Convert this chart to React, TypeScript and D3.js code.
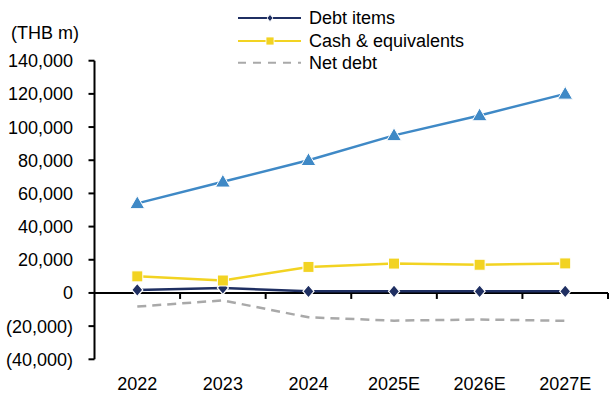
import React from "react";
import * as d3 from "d3";

const categories = ["2022", "2023", "2024", "2025E", "2026E", "2027E"];
const seriesBlue = [54000, 67000, 80000, 95000, 107000, 120000];
const debtItems = [1800, 3000, 1000, 1000, 1000, 1000];
const cashEquivalents = [10000, 7500, 15700, 17700, 17000, 17800];
const netDebt = [-8200, -4500, -14700, -16700, -16000, -16800];
const yTicks = [140000, 120000, 100000, 80000, 60000, 40000, 20000, 0, -20000, -40000];
const legendLabels = ["Debt items", "Cash & equivalents", "Net debt"];

const W = 609, H = 394;
const X0 = 94.5, X1 = 608;
const YTOP = 60.7, YBOT = 359.3;

function fmt(v: number) {
  const s = d3.format(",")(Math.abs(v));
  return v < 0 ? `(${s})` : s;
}

export default function App() {
  const x = d3.scaleBand<string>().domain(categories).range([X0, X1]).padding(0);
  const y = d3.scaleLinear().domain([-40000, 140000]).range([YBOT, YTOP]);
  const cx = (c: string) => (x(c) as number) + x.bandwidth() / 2;
  const line = d3
    .line<number>()
    .x((_, i) => cx(categories[i]))
    .y((d) => y(d));
  const font = "Liberation Sans, Arial, sans-serif";
  const navy = "#1F2F62";
  const yellow = "#F2D322";
  const grey = "#A9A9A9";
  const blue = "#3F89C6";
  const tri = d3.symbol().type(d3.symbolTriangle).size(95);
  const dia = (cxp: number, cyp: number, r: number) =>
    `M${cxp},${cyp - r}L${cxp + r * 0.85},${cyp}L${cxp},${cyp + r}L${cxp - r * 0.85},${cyp}Z`;

  const legendY = [18, 41, 62.7];
  const fs = 18;

  return (
    <svg width={W} height={H} style={{ position: "absolute", left: 0, top: 0, background: "#fff" }} fontFamily={font}>
      {/* axis title */}
      <text x={11} y={39} fontSize={fs} fill="#000">(THB m)</text>
      {/* y axis */}
      <line x1={X0} x2={X0} y1={YTOP} y2={YBOT} stroke="#000" strokeWidth={2} />
      {yTicks.map((t) => (
        <g key={t}>
          <line x1={X0 - 6} x2={X0} y1={y(t)} y2={y(t)} stroke="#000" strokeWidth={2} />
          <text x={73} y={y(t)} dy="0.36em" textAnchor="end" fontSize={fs} fill="#000">
            {fmt(t)}
          </text>
        </g>
      ))}
      {/* x axis at zero */}
      <line x1={X0} x2={X1} y1={y(0)} y2={y(0)} stroke="#000" strokeWidth={2} />
      {categories.map((c) => (
        <line key={"t" + c} x1={(x(c) as number) + x.bandwidth()} x2={(x(c) as number) + x.bandwidth()} y1={y(0)} y2={y(0) + 6} stroke="#000" strokeWidth={2} />
      ))}
      {categories.map((c) => (
        <text key={"l" + c} x={cx(c)} y={390} textAnchor="middle" fontSize={fs} fill="#000">
          {c}
        </text>
      ))}
      {/* net debt */}
      <path d={line(netDebt) || ""} fill="none" stroke={grey} strokeWidth={2.5} strokeDasharray="9,6" />
      {/* debt items */}
      <path d={line(debtItems) || ""} fill="none" stroke={navy} strokeWidth={2.5} />
      {debtItems.map((v, i) => (
        <path key={"d" + i} d={dia(cx(categories[i]), y(v), 6.5)} fill={navy} stroke="#fff" strokeWidth={1.2} />
      ))}
      {/* cash */}
      <path d={line(cashEquivalents) || ""} fill="none" stroke={yellow} strokeWidth={2.5} />
      {cashEquivalents.map((v, i) => (
        <rect key={"c" + i} x={cx(categories[i]) - 5.5} y={y(v) - 5.5} width={11} height={11} fill={yellow} stroke="#fff" strokeWidth={1} />
      ))}
      {/* blue series */}
      <path d={line(seriesBlue) || ""} fill="none" stroke={blue} strokeWidth={2.5} />
      {seriesBlue.map((v, i) => (
        <path key={"b" + i} d={tri() || ""} transform={`translate(${cx(categories[i])},${y(v) + 1})`} fill={blue} stroke="#fff" strokeWidth={1} />
      ))}
      {/* legend */}
      <g>
        <line x1={238} x2={301} y1={legendY[0]} y2={legendY[0]} stroke={navy} strokeWidth={2} />
        <path d={dia(270, legendY[0], 3.5)} fill={navy} stroke="#fff" strokeWidth={0.8} />
        <line x1={238} x2={301} y1={legendY[1]} y2={legendY[1]} stroke={yellow} strokeWidth={2} />
        <rect x={266} y={legendY[1] - 4} width={8} height={8} fill={yellow} stroke="#fff" strokeWidth={0.8} />
        <line x1={238} x2={301} y1={legendY[2]} y2={legendY[2]} stroke={grey} strokeWidth={2} strokeDasharray="8,7" />
        {legendLabels.map((l, i) => (
          <text key={l} x={309} y={legendY[i]} dy="0.36em" fontSize={fs} fill="#000">
            {l}
          </text>
        ))}
      </g>
    </svg>
  );
}
